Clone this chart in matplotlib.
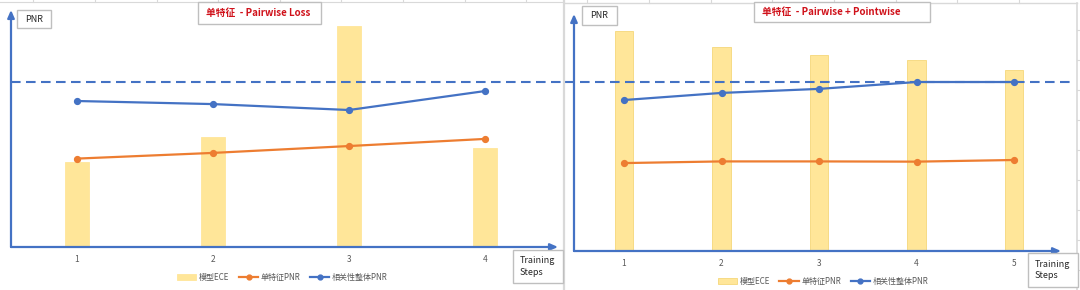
import matplotlib
matplotlib.use("Agg")
import matplotlib.pyplot as plt
from matplotlib.patches import Rectangle, Patch
from matplotlib.lines import Line2D

plt.rcParams['font.family'] = ['Noto Sans CJK SC', 'DejaVu Sans']

# ---- data -------------------------------------------------------------
steps_left = [1, 2, 3, 4]
ece_left = [35.9, 46.4, 93.2, 41.8]
single_pnr_left = [37.3, 39.7, 42.6, 45.6]
overall_pnr_left = [61.6, 60.3, 57.8, 65.8]
target_pnr_left = 69.8

steps_right = [1, 2, 3, 4, 5]
ece_right = [92.8, 86.1, 82.7, 80.6, 76.4]
single_pnr_right = [37.1, 37.8, 37.8, 37.7, 38.4]
overall_pnr_right = [63.7, 66.7, 68.4, 71.3, 71.3]
target_pnr_right = 71.5

title_left = "单特征  - Pairwise Loss"
title_right = "单特征  - Pairwise + Pointwise"
legend_labels = ["模型ECE", "单特征PNR", "相关性整体PNR"]
y_label = "PNR"
x_label = "Training\nSteps"

# ---- style ------------------------------------------------------------
BLUE = "#4472C4"
ORANGE = "#ED7D31"
GOLD = "#FFE699"
GOLD_EDGE = "#F5D77A"
GREY_TXT = "#595959"
BOX_EDGE = "#BFBFBF"
GRID = "#D9D9D9"
RED = "#D0121B"

W, H = 1080, 290
fig = plt.figure(figsize=(W / 100, H / 100), dpi=100)


def fx(x):
    return x / W


def fy(y):
    return 1 - y / H


def frect(x0, y0, x1, y1):
    return [fx(x0), fy(y1), (x1 - x0) / W, (y1 - y0) / H]


def box(x0, y0, x1, y1, lw=1.0):
    fig.patches.append(Rectangle((fx(x0), fy(y1)), (x1 - x0) / W, (y1 - y0) / H,
                                 transform=fig.transFigure, facecolor="white",
                                 edgecolor=BOX_EDGE, lw=lw, zorder=5))


def flinex(x0, x1, y, **kw):
    fig.lines.append(Line2D([fx(x0), fx(x1)], [fy(y), fy(y)],
                            transform=fig.transFigure, **kw))


def fliney(x, y0, y1, **kw):
    fig.lines.append(Line2D([fx(x), fx(x)], [fy(y0), fy(y1)],
                            transform=fig.transFigure, **kw))


# spreadsheet gridlines behind the charts
flinex(0, 564, 2, color=GRID, lw=0.8)
for gx in [33, 95, 157, 218, 280, 341, 403, 465, 526]:
    fliney(gx, 0, 2, color=GRID, lw=0.8)
for gx in [587, 649, 711, 772, 834, 896, 957, 1019]:
    fliney(gx, 0, 3, color=GRID, lw=0.8)
fliney(564, 0, 290, color=GRID, lw=1.6)
flinex(564, 1077, 3, color=GRID, lw=1.0)
fliney(1077, 3, 290, color=GRID, lw=1.2)
for gy in [30, 60, 90, 120, 150, 180, 210, 240, 270]:
    flinex(1077, 1080, gy, color=GRID, lw=0.8)


def panel(rect, xlim, steps, ece, single, overall, target, bar_w, bar_edge,
          ref_span, title, title_box, pnr_box, steps_box, legend_xy):
    ax = fig.add_axes(frect(*rect))
    ax.set_xlim(*xlim)
    ax.set_ylim(0, 100)
    for s in ax.spines.values():
        s.set_visible(False)
    ax.set_yticks([])
    ax.set_xticks(steps)
    ax.set_xticklabels([str(s) for s in steps])
    ax.tick_params(axis="x", length=0, labelsize=6, labelcolor=GREY_TXT, pad=6)

    ax.bar(steps, ece, width=bar_w, color=GOLD,
           edgecolor=bar_edge, lw=0.6, zorder=2)
    ax.axhline(target, xmin=ref_span[0], xmax=ref_span[1], color=BLUE, lw=1.5,
               ls=(0, (4.6, 2.6)), clip_on=False, zorder=3)
    ax.plot(steps, single, color=ORANGE, lw=1.6, marker="o", ms=4.2, zorder=4)
    ax.plot(steps, overall, color=BLUE, lw=1.6, marker="o", ms=4.2, zorder=4)

    arrow = dict(arrowstyle="-|>,head_length=0.45,head_width=0.2", color=BLUE,
                 lw=1.6, shrinkA=0, shrinkB=0)
    ax.annotate("", xy=(1, 0), xytext=(0, 0), xycoords="axes fraction",
                arrowprops=arrow, annotation_clip=False)
    ax.annotate("", xy=(0, 1), xytext=(0, 0), xycoords="axes fraction",
                arrowprops=arrow, annotation_clip=False)

    handles = [Patch(facecolor=GOLD, edgecolor=bar_edge, lw=0.6),
               Line2D([], [], color=ORANGE, lw=1.6, marker="o", ms=3.5),
               Line2D([], [], color=BLUE, lw=1.6, marker="o", ms=3.5)]
    leg = ax.legend(handles, legend_labels, loc="center",
                    bbox_to_anchor=legend_xy, ncol=3, frameon=False,
                    fontsize=5.8, handlelength=2.4, handletextpad=0.3,
                    columnspacing=1.2, handleheight=0.7)
    for t in leg.get_texts():
        t.set_color(GREY_TXT)

    # title box
    box(*title_box)
    fig.text(fx(title_box[0] + 8), fy((title_box[1] + title_box[3]) / 2), title,
             color=RED, fontsize=7, fontweight="bold", ha="left", va="center",
             zorder=6)
    # y axis name
    box(*pnr_box)
    fig.text(fx((pnr_box[0] + pnr_box[2]) / 2), fy((pnr_box[1] + pnr_box[3]) / 2),
             y_label, fontsize=6.5, color="#262626", ha="center", va="center",
             zorder=6)
    # x axis name
    box(*steps_box)
    fig.text(fx(steps_box[0] + 7), fy((steps_box[1] + steps_box[3]) / 2),
             x_label, fontsize=6.5, color="#262626", ha="left", va="center",
             linespacing=1.35, zorder=6)
    return ax


panel(rect=(11, 10, 558, 247), xlim=(0.515, 4.537),
      steps=steps_left, ece=ece_left, single=single_pnr_left,
      overall=overall_pnr_left, target=target_pnr_left,
      bar_w=0.17, bar_edge=GOLD, ref_span=(0.0, 1.013),
      title=title_left, title_box=(198, 2, 321, 24),
      pnr_box=(17, 10, 51, 28), steps_box=(513, 250, 563, 283),
      legend_xy=(0.496, -0.127))

panel(rect=(574, 14, 1061, 251), xlim=(0.487, 5.482),
      steps=steps_right, ece=ece_right, single=single_pnr_right,
      overall=overall_pnr_right, target=target_pnr_right,
      bar_w=0.185, bar_edge=GOLD_EDGE, ref_span=(-0.018, 1.027),
      title=title_right, title_box=(754, 2, 930, 22),
      pnr_box=(582, 6, 617, 25), steps_box=(1028, 253, 1078, 287),
      legend_xy=(0.511, -0.127))

fig.savefig("out.png", dpi=100, facecolor="white")
